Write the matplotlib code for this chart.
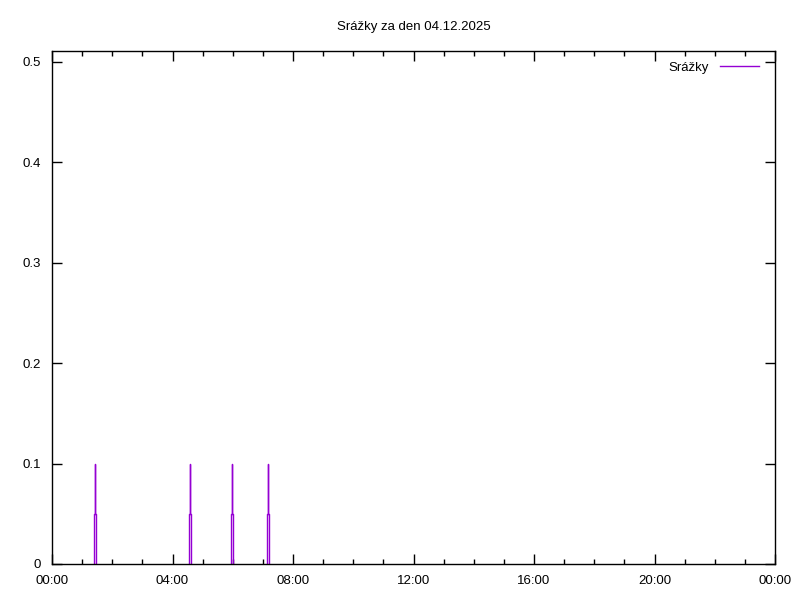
import matplotlib
matplotlib.use("Agg")
import matplotlib.pyplot as plt
import numpy as np
from matplotlib.ticker import MultipleLocator, FixedLocator

plt.rcParams['font.family'] = ['Liberation Sans', 'DejaVu Sans']

nan = np.nan
# time in minutes from midnight, precipitation values (nan separates rain events)
times = [84, 84, 86, 86, 86, 88, 88, 0,
         272, 272, 274, 274, 274, 276, 276, 0,
         356, 356, 358, 358, 358, 360, 360, 0,
         429, 429, 431, 431, 431, 433, 433]
values = [0, 0.05, 0.05, 0.1, 0.05, 0.05, 0, nan,
          0, 0.05, 0.05, 0.1, 0.05, 0.05, 0, nan,
          0, 0.05, 0.05, 0.1, 0.05, 0.05, 0, nan,
          0, 0.05, 0.05, 0.1, 0.05, 0.05, 0]
xtick_labels = ["00:00", "04:00", "08:00", "12:00", "16:00", "20:00", "00:00"]
ytick_vals = [0, 0.1, 0.2, 0.3, 0.4, 0.5]
ytick_labels = ["0", "0.1", "0.2", "0.3", "0.4", "0.5"]

fig = plt.figure(figsize=(8, 6), dpi=100)
ax = fig.add_axes([52/800, (600-564)/600, (775-52)/800, (564-51)/600])

hours = [t/60 for t in times]
ax.plot(hours, values, color='#9400D3', lw=1.0, label='Srážky', zorder=2)

ax.set_xlim(0, 24)
ax.set_ylim(0, 0.5 * 513 / 502)
ax.xaxis.set_major_locator(FixedLocator([0, 4, 8, 12, 16, 20, 24]))
ax.xaxis.set_minor_locator(MultipleLocator(1))
ax.set_xticklabels(xtick_labels)
ax.set_yticks(ytick_vals)
ax.set_yticklabels(ytick_labels)
ax.tick_params(which='both', direction='in', top=True, right=True,
               labelsize=9.5, colors='black', width=1)
ax.tick_params(which='major', length=7, pad=8)
ax.tick_params(axis='y', which='major', pad=8)
ax.tick_params(which='minor', length=3.5)
for s in ax.spines.values():
    s.set_linewidth(1)
    s.set_zorder(5)

ax.set_title('Srážky za den 04.12.2025', fontsize=9.5, pad=15)

leg = ax.legend(loc='upper right', frameon=False, fontsize=9.5, markerfirst=False,
                handlelength=3.0, bbox_to_anchor=(0.991, 0.997), borderaxespad=0.3,
                handletextpad=0.8)

fig.savefig('out.png', dpi=100)
